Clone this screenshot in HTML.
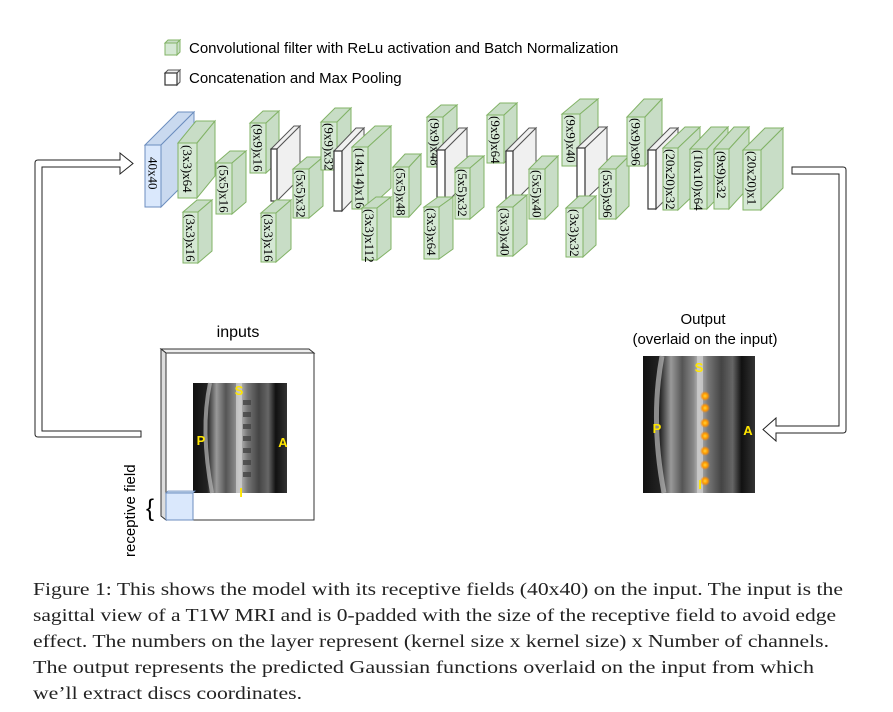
<!DOCTYPE html>
<html><head><meta charset="utf-8"><style>
html,body{margin:0;padding:0;background:#fff;}
svg{display:block;}
.g .f{fill:#d5e8d4;stroke:#82b366;stroke-width:1}
.g .s{fill:#c8ddc6;stroke:#82b366;stroke-width:1}
.w .f{fill:#fff;stroke:#333;stroke-width:1.2}
.w .s{fill:#f0f0f0;stroke:#555;stroke-width:1}
.lb{font-family:"Liberation Serif",serif;font-size:13px;fill:#000}
.cap{font-family:"Liberation Serif",serif;font-size:18px;fill:#222}
.sans{font-family:"Liberation Sans",sans-serif;fill:#000}
.yl{font-family:"Liberation Sans",sans-serif;font-weight:bold;font-size:13px;fill:#ffe600}
</style></head><body>
<svg width="893" height="712" viewBox="0 0 893 712" xmlns="http://www.w3.org/2000/svg">
<defs>
<linearGradient id="mri" x1="0" x2="1" y1="0" y2="0">
<stop offset="0" stop-color="#111"/><stop offset="0.15" stop-color="#222"/><stop offset="0.25" stop-color="#999"/><stop offset="0.35" stop-color="#555"/><stop offset="0.45" stop-color="#888"/><stop offset="0.5" stop-color="#bbb"/><stop offset="0.58" stop-color="#777"/><stop offset="0.7" stop-color="#444"/><stop offset="0.8" stop-color="#666"/><stop offset="0.88" stop-color="#111"/><stop offset="1" stop-color="#333"/>
</linearGradient>
<radialGradient id="dot"><stop offset="0" stop-color="#ffd23a"/><stop offset="0.5" stop-color="#ff9a00"/><stop offset="1" stop-color="#ff8000" stop-opacity="0"/></radialGradient>
</defs>

<!-- legend -->
<g class="g"><polygon class="s" points="165,43 168,40 180,40 177,43"/><polygon class="s" points="177,43 180,40 180,52 177,55"/><rect class="f" x="165" y="43" width="12" height="12"/></g>
<text class="sans" x="189" y="53" font-size="15">Convolutional filter with ReLu activation and Batch Normalization</text>
<g class="w"><polygon class="s" points="165,73 168,70 180,70 177,73"/><polygon class="s" points="177,73 180,70 180,82 177,85"/><rect class="f" x="165" y="73" width="12" height="12"/></g>
<text class="sans" x="189" y="83" font-size="15">Concatenation and Max Pooling</text>

<!-- blocks -->
<g><polygon points="145,145 178,112 194,112 161,145" fill="#c9d9ef" stroke="#6c8ebf"/><polygon points="161,145 194,112 194,174 161,207" fill="#c9d9ef" stroke="#6c8ebf"/><rect x="145" y="145" width="16" height="62" fill="#dae8fc" stroke="#6c8ebf"/><text class="lb" transform="translate(153,157) rotate(90)" dy="0.35em">40x40</text></g>

<g class="g"><polygon class="s" points="178,143 196,121 215,121 197,143"/><polygon class="s" points="197,143 215,121 215,176 197,198"/><rect class="f" x="178" y="143" width="19" height="55"/><text class="lb" transform="translate(187.5,145) rotate(90)" dy="0.35em">(3x3)x64</text></g>
<g class="g"><polygon class="s" points="183,212 197,200 212,200 198,212"/><polygon class="s" points="198,212 212,200 212,251 198,263"/><rect class="f" x="183" y="212" width="15" height="51"/><text class="lb" transform="translate(190.5,214) rotate(90)" dy="0.35em">(3x3)x16</text></g>
<g class="g"><polygon class="s" points="216,163 230,151 246,151 232,163"/><polygon class="s" points="232,163 246,151 246,202 232,214"/><rect class="f" x="216" y="163" width="16" height="51"/><text class="lb" transform="translate(224,165) rotate(90)" dy="0.35em">(5x5)x16</text></g>
<g class="g"><polygon class="s" points="250,123 263,111 279,111 266,123"/><polygon class="s" points="266,123 279,111 279,161 266,173"/><rect class="f" x="250" y="123" width="16" height="50"/><text class="lb" transform="translate(258,124) rotate(90)" dy="0.35em">(9x9)x16</text></g>
<g class="w"><polygon class="s" points="271,149 294,126 300,126 277,149"/><polygon class="s" points="277,149 300,126 300,178 277,201"/><rect class="f" x="271" y="149" width="6" height="52"/></g>
<g class="g"><polygon class="s" points="261,213 276,200 291,200 276,213"/><polygon class="s" points="276,213 291,200 291,249 276,262"/><rect class="f" x="261" y="213" width="15" height="49"/><text class="lb" transform="translate(268.5,214) rotate(90)" dy="0.35em">(3x3)x16</text></g>
<g class="g"><polygon class="s" points="293,169 307,157 323,157 309,169"/><polygon class="s" points="309,169 323,157 323,206 309,218"/><rect class="f" x="293" y="169" width="16" height="49"/><text class="lb" transform="translate(301,170) rotate(90)" dy="0.35em">(5x5)x32</text></g>
<g class="g"><polygon class="s" points="321,122 335,108 351,108 337,122"/><polygon class="s" points="337,122 351,108 351,156 337,170"/><rect class="f" x="321" y="122" width="16" height="48"/><text class="lb" transform="translate(329,123) rotate(90)" dy="0.35em">(9x9)x32</text></g>
<g class="w"><polygon class="s" points="334,151 356,128 364,128 342,151"/><polygon class="s" points="342,151 364,128 364,188 342,211"/><rect class="f" x="334" y="151" width="8" height="60"/></g>
<g class="g"><polygon class="s" points="352,147 375,126 391,126 368,147"/><polygon class="s" points="368,147 391,126 391,188 368,209"/><rect class="f" x="352" y="147" width="16" height="62"/><text class="lb" transform="translate(360,148) rotate(90)" dy="0.35em">(14x14)x16</text></g>
<g class="g"><polygon class="s" points="362,208 376,197 391,197 377,208"/><polygon class="s" points="377,208 391,197 391,249 377,260"/><rect class="f" x="362" y="208" width="15" height="52"/><text class="lb" transform="translate(369.5,209) rotate(90)" dy="0.35em">(3x3)x112</text></g>
<g class="g"><polygon class="s" points="393,167 405,154 421,154 409,167"/><polygon class="s" points="409,167 421,154 421,204 409,217"/><rect class="f" x="393" y="167" width="16" height="50"/><text class="lb" transform="translate(401,168) rotate(90)" dy="0.35em">(5x5)x48</text></g>
<g class="g"><polygon class="s" points="427,117 441,105 457,105 443,117"/><polygon class="s" points="443,117 457,105 457,155 443,167"/><rect class="f" x="427" y="117" width="16" height="50"/><text class="lb" transform="translate(435,118) rotate(90)" dy="0.35em">(9x9)x48</text></g>
<g class="w"><polygon class="s" points="437,150 459,128 467,128 445,150"/><polygon class="s" points="445,150 467,128 467,182 445,204"/><rect class="f" x="437" y="150" width="8" height="54"/></g>
<g class="g"><polygon class="s" points="424,207 438,197 453,197 439,207"/><polygon class="s" points="439,207 453,197 453,249 439,259"/><rect class="f" x="424" y="207" width="15" height="52"/><text class="lb" transform="translate(431.5,208) rotate(90)" dy="0.35em">(3x3)x64</text></g>
<g class="g"><polygon class="s" points="455,168 469,156 484,156 470,168"/><polygon class="s" points="470,168 484,156 484,207 470,219"/><rect class="f" x="455" y="168" width="15" height="51"/><text class="lb" transform="translate(462.5,169) rotate(90)" dy="0.35em">(5x5)x32</text></g>
<g class="g"><polygon class="s" points="487,115 500,103 517,103 504,115"/><polygon class="s" points="504,115 517,103 517,151 504,163"/><rect class="f" x="487" y="115" width="17" height="48"/><text class="lb" transform="translate(495.5,116) rotate(90)" dy="0.35em">(9x9)x64</text></g>
<g class="w"><polygon class="s" points="506,151 529,128 536,128 513,151"/><polygon class="s" points="513,151 536,128 536,180 513,203"/><rect class="f" x="506" y="151" width="7" height="52"/></g>
<g class="g"><polygon class="s" points="497,207 511,195 527,195 513,207"/><polygon class="s" points="513,207 527,195 527,244 513,256"/><rect class="f" x="497" y="207" width="16" height="49"/><text class="lb" transform="translate(505,208) rotate(90)" dy="0.35em">(3x3)x40</text></g>
<g class="g"><polygon class="s" points="529,169 542,156 558,156 545,169"/><polygon class="s" points="545,169 558,156 558,206 545,219"/><rect class="f" x="529" y="169" width="16" height="50"/><text class="lb" transform="translate(537,170) rotate(90)" dy="0.35em">(5x5)x40</text></g>
<g class="g"><polygon class="s" points="562,114 580,99 598,99 580,114"/><polygon class="s" points="580,114 598,99 598,151 580,166"/><rect class="f" x="562" y="114" width="18" height="52"/><text class="lb" transform="translate(571,115) rotate(90)" dy="0.35em">(9x9)x40</text></g>
<g class="w"><polygon class="s" points="577,148 599,127 607,127 585,148"/><polygon class="s" points="585,148 607,127 607,179 585,200"/><rect class="f" x="577" y="148" width="8" height="52"/></g>
<g class="g"><polygon class="s" points="566,208 579,196 596,196 583,208"/><polygon class="s" points="583,208 596,196 596,245 583,257"/><rect class="f" x="566" y="208" width="17" height="49"/><text class="lb" transform="translate(574.5,209) rotate(90)" dy="0.35em">(3x3)x32</text></g>
<g class="g"><polygon class="s" points="599,169 612,156 629,156 616,169"/><polygon class="s" points="616,169 629,156 629,206 616,219"/><rect class="f" x="599" y="169" width="17" height="50"/><text class="lb" transform="translate(607.5,170) rotate(90)" dy="0.35em">(5x5)x96</text></g>
<g class="g"><polygon class="s" points="627,117 644,99 662,99 645,117"/><polygon class="s" points="645,117 662,99 662,148 645,166"/><rect class="f" x="627" y="117" width="18" height="49"/><text class="lb" transform="translate(636,118) rotate(90)" dy="0.35em">(9x9)x96</text></g>
<g class="w"><polygon class="s" points="648,150 670,128 678,128 656,150"/><polygon class="s" points="656,150 678,128 678,187 656,209"/><rect class="f" x="648" y="150" width="8" height="59"/></g>
<g class="g"><polygon class="s" points="663,148 685,127 700,127 678,148"/><polygon class="s" points="678,148 700,127 700,189 678,210"/><rect class="f" x="663" y="148" width="15" height="62"/><text class="lb" transform="translate(670.5,149) rotate(90)" dy="0.35em">(20x20)x32</text></g>
<g class="g"><polygon class="s" points="690,149 711,127 728,127 707,149"/><polygon class="s" points="707,149 728,127 728,187 707,209"/><rect class="f" x="690" y="149" width="17" height="60"/><text class="lb" transform="translate(698.5,150) rotate(90)" dy="0.35em">(10x10)x64</text></g>
<g class="g"><polygon class="s" points="714,149 734,127 749,127 729,149"/><polygon class="s" points="729,149 749,127 749,187 729,209"/><rect class="f" x="714" y="149" width="15" height="60"/><text class="lb" transform="translate(721.5,151) rotate(90)" dy="0.35em">(9x9)x32</text></g>
<g class="g"><polygon class="s" points="743,150 765,128 783,128 761,150"/><polygon class="s" points="761,150 783,128 783,188 761,210"/><rect class="f" x="743" y="150" width="18" height="60"/><text class="lb" transform="translate(752,151) rotate(90)" dy="0.35em">(20x20)x1</text></g>

<!-- arrows -->
<path d="M141,437 L38,437 Q35,437 35,434 L35,163 Q35,160 38,160 L120,160 L120,153 L133,163.5 L120,174 L120,167 L42,167 L42,431 L141,431 Z" fill="#fff" stroke="#222" stroke-width="1"/>
<path d="M792,167 L843,167 Q846,167 846,170 L846,430 Q846,433 843,433 L776,433 L776,441 L763,429.5 L776,418 L776,426 L839,426 L839,174 L792,174 Z" fill="#fff" stroke="#222" stroke-width="1"/>

<!-- inputs panel -->
<text class="sans" x="238" y="337" font-size="16" text-anchor="middle">inputs</text>
<polygon points="161,349 309,349 314,353 166,353" fill="#eee" stroke="#333" stroke-width="1"/>
<polygon points="161,349 166,353 166,520 161,516" fill="#ddd" stroke="#333" stroke-width="1"/>
<rect x="166" y="353" width="148" height="167" fill="#fff" stroke="#333" stroke-width="1"/>
<g>
<rect x="193" y="383" width="94" height="110" fill="url(#mri)"/>
<rect x="236" y="383" width="6" height="110" fill="#ccc" opacity="0.8"/>
<path d="M210,383 Q200,430 212,493" stroke="#bbb" stroke-width="4" fill="none" opacity="0.7"/>
<g fill="#444" opacity="0.8"><rect x="243" y="400" width="8" height="5"/><rect x="243" y="412" width="8" height="5"/><rect x="243" y="424" width="8" height="5"/><rect x="243" y="436" width="8" height="5"/><rect x="243" y="448" width="8" height="5"/><rect x="243" y="460" width="8" height="5"/><rect x="243" y="472" width="8" height="5"/></g>
<text class="yl" x="239" y="395" text-anchor="middle">S</text>
<text class="yl" x="201" y="445" text-anchor="middle">P</text>
<text class="yl" x="283" y="447" text-anchor="middle">A</text>
<text class="yl" x="241" y="497" text-anchor="middle">I</text>
</g>
<polygon points="166,493 168,491 195,491 193,493" fill="#c9d9ef" stroke="#6c8ebf" stroke-width="0.8"/>
<rect x="166" y="493" width="27" height="27" fill="#dae8fc" stroke="#6c8ebf" stroke-width="1"/>
<text x="150" y="516" font-family="Liberation Sans,sans-serif" font-size="24" text-anchor="middle">{</text>
<text class="sans" font-size="15" transform="translate(135,557) rotate(-90)">receptive field</text>

<!-- output -->
<text class="sans" x="703" y="324" font-size="15" text-anchor="middle">Output</text>
<text class="sans" x="705" y="344" font-size="15" text-anchor="middle">(overlaid on the input)</text>
<g>
<rect x="643" y="356" width="112" height="137" fill="url(#mri)"/>
<rect x="697" y="356" width="6" height="137" fill="#ccc" opacity="0.8"/>
<path d="M662,356 Q650,420 664,493" stroke="#bbb" stroke-width="5" fill="none" opacity="0.7"/>
<g fill="url(#dot)"><circle cx="705" cy="396" r="5"/><circle cx="705" cy="408" r="5"/><circle cx="705" cy="423" r="5"/><circle cx="705" cy="436" r="5"/><circle cx="705" cy="451" r="5"/><circle cx="705" cy="465" r="5"/><circle cx="705" cy="481" r="5"/></g>
<text class="yl" x="699" y="372" text-anchor="middle">S</text>
<text class="yl" x="657" y="433" text-anchor="middle">P</text>
<text class="yl" x="748" y="435" text-anchor="middle">A</text>
<text class="yl" x="700" y="489" text-anchor="middle">I</text>
</g>

<!-- caption -->
<text class="cap" x="33" y="595" textLength="810" lengthAdjust="spacingAndGlyphs">Figure 1: This shows the model with its receptive fields (40x40) on the input. The input is the</text>
<text class="cap" x="33" y="621" textLength="803" lengthAdjust="spacingAndGlyphs">sagittal view of a T1W MRI and is 0-padded with the size of the receptive field to avoid edge</text>
<text class="cap" x="33" y="647" textLength="796" lengthAdjust="spacingAndGlyphs">effect. The numbers on the layer represent (kernel size x kernel size) x Number of channels.</text>
<text class="cap" x="33" y="673" textLength="781" lengthAdjust="spacingAndGlyphs">The output represents the predicted Gaussian functions overlaid on the input from which</text>
<text class="cap" x="33" y="699" textLength="269" lengthAdjust="spacingAndGlyphs">we’ll extract discs coordinates.</text>
</svg>
</body></html>
